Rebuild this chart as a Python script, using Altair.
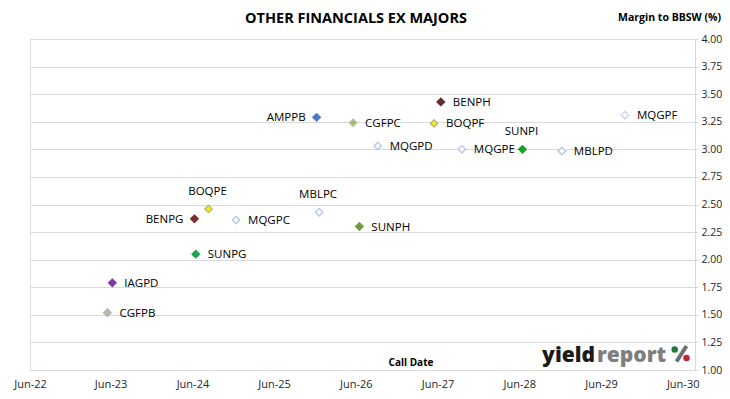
import altair as alt
import pandas as pd

# ---- data ----
names = ["CGFPB", "IAGPD", "BENPG", "SUNPG", "BOQPE", "MQGPC", "AMPPB", "MBLPC",
         "CGFPC", "SUNPH", "MQGPD", "BOQPF", "BENPH", "MQGPE", "SUNPI", "MBLPD", "MQGPF"]
call_dates = ["2023-05-18", "2023-06-09", "2024-06-10", "2024-06-16", "2024-08-12",
              "2024-12-13", "2025-12-08", "2025-12-19", "2026-05-20", "2026-06-17",
              "2026-09-07", "2027-05-17", "2027-06-16", "2027-09-18", "2028-06-15",
              "2028-12-08", "2029-09-16"]
margins = [1.52, 1.79, 2.37, 2.05, 2.46, 2.36, 3.29, 2.43,
           3.24, 2.30, 3.03, 3.235, 3.43, 3.00, 3.00, 2.985, 3.31]
label_side = ["right", "right", "left", "right", "above", "right", "left", "above",
              "right", "right", "right", "right", "right", "right", "above", "right", "right"]

fill_colors = ["#A9C3AE", "#7B3AA6", "#7A2E2E", "#1BA650", "#F5F000", "#FFFFFF", "#4A7EC8", "#FFFFFF",
               "#A3B56C", "#6E9B3A", "#FFFFFF", "#F5F000", "#6B2A2A", "#FFFFFF", "#16A523", "#FFFFFF", "#FFFFFF"]
stroke_colors = ["#A8B8A8", "#7B3AA6", "#7A2E2E", "#1BA650", "#B8B880", "#B7C8E6", "#4A7EC8", "#B7C8E6",
                 "#B8C4A0", "#6E9B3A", "#B7C8E6", "#B8B880", "#6B2A2A", "#B7C8E6", "#16A523", "#B7C8E6", "#C9D5EE"]

y_ticks = [1.00, 1.25, 1.50, 1.75, 2.00, 2.25, 2.50, 2.75, 3.00, 3.25, 3.50, 3.75, 4.00]
x_tick_dates = [(2022, 6, 6), (2023, 6, 1), (2024, 6, 1), (2025, 6, 1), (2026, 6, 1),
                (2027, 6, 1), (2028, 6, 1), (2029, 6, 1), (2030, 6, 1)]

title_text = "OTHER FINANCIALS EX MAJORS"
y_title = "Margin to BBSW (%)"
x_title = "Call Date"

df = pd.DataFrame({
    "name": names,
    "date": [d + "T00:00:00" for d in call_dates],
    "margin": margins,
    "side": label_side,
})

FONT = "Open Sans"
GRID = "#D9D9D9"

x_scale = alt.Scale(domain=[alt.DateTime(year=2022, month=6, date=6),
                            alt.DateTime(year=2030, month=7, date=26)])
x_axis = alt.Axis(
    values=[alt.DateTime(year=y, month=m, date=d) for (y, m, d) in x_tick_dates],
    format="%b-%y", title=None, grid=False, ticks=False,
    domainColor=GRID, labelFont=FONT, labelFontSize=11, labelColor="#262626",
    labelPadding=8, labelFlush=False, labelOverlap=False,
)
y_scale = alt.Scale(domain=[1, 4], nice=False, zero=False)
y_axis = alt.Axis(
    orient="right", values=y_ticks, format=".2f", title=None,
    grid=True, gridColor=GRID, domainColor=GRID, tickColor=GRID, tickSize=3,
    labelFont=FONT, labelFontSize=10.5, labelColor="#262626", labelPadding=3,
    labelFlush=False, labelOverlap=False,
)

def xe():
    return alt.X("date:T", scale=x_scale, axis=x_axis)

def ye():
    return alt.Y("margin:Q", scale=y_scale, axis=y_axis)

base = alt.Chart(df)

points = base.mark_point(shape="diamond", size=55, filled=True, strokeWidth=1.4,
                         opacity=1, fillOpacity=1).encode(
    x=xe(), y=ye(),
    fill=alt.Fill("name:N", scale=alt.Scale(domain=names, range=fill_colors), legend=None),
    stroke=alt.Stroke("name:N", scale=alt.Scale(domain=names, range=stroke_colors), legend=None),
)

lbl_style = dict(font=FONT, fontSize=11.5, color="#000000", baseline="middle")
lbl_right = base.transform_filter(alt.datum.side == "right").mark_text(
    align="left", dx=12, dy=1, **lbl_style).encode(x=xe(), y=ye(), text="name:N")
lbl_left = base.transform_filter(alt.datum.side == "left").mark_text(
    align="right", dx=-11, dy=1, **lbl_style).encode(x=xe(), y=ye(), text="name:N")
lbl_above = base.transform_filter(alt.datum.side == "above").mark_text(
    align="center", dx=-1, dy=-17, **lbl_style).encode(x=xe(), y=ye(), text="name:N")

def deco(text, x, y, size, color="#000000", weight="bold", align="center", baseline="middle"):
    return alt.Chart(pd.DataFrame({"t": [text]})).mark_text(
        font=FONT, fontSize=size, fontWeight=weight, color=color,
        align=align, baseline=baseline,
    ).encode(text="t:N", x=alt.value(x), y=alt.value(y))

title = deco(title_text, 326, -20, 14.5)
ytitle = deco(y_title, 691, -21, 10.5, align="right")
xtitle = deco(x_title, 381, 324, 10)

logo_yield = deco("yield", 565, 322.5, 21, color="#1A1A1A", weight=800, align="right", baseline="alphabetic")
logo_report = deco("report", 567, 322.5, 21, color="#7F7F7F", weight=800, align="left", baseline="alphabetic")
logo_slash = alt.Chart(pd.DataFrame({"k": [0]})).mark_rule(
    color="#6F6F6F", strokeWidth=4).encode(
    x=alt.value(646.5), y=alt.value(322.5), x2=alt.value(656.5), y2=alt.value(307))
dot_g = alt.Chart(pd.DataFrame({"k": [0]})).mark_point(
    shape="circle", filled=True, size=42, opacity=1, color="#1E7B3A").encode(
    x=alt.value(644.7), y=alt.value(310.4))
dot_r = alt.Chart(pd.DataFrame({"k": [0]})).mark_point(
    shape="circle", filled=True, size=42, opacity=1, color="#C0282D").encode(
    x=alt.value(656.5), y=alt.value(319))

chart = alt.layer(
    points, lbl_right, lbl_left, lbl_above,
    title, ytitle, xtitle, logo_yield, logo_report, logo_slash, dot_g, dot_r,
).resolve_scale(fill="independent", stroke="independent").properties(
    width=665, height=331,
    autosize=alt.AutoSizeParams(type="none"),
    padding={"left": 22, "top": 31, "right": 27, "bottom": 20},
).configure_view(stroke=GRID, strokeWidth=1).configure(background="#FFFFFF")

chart.save("out.html", embed_options={"renderer": "svg", "actions": False})
